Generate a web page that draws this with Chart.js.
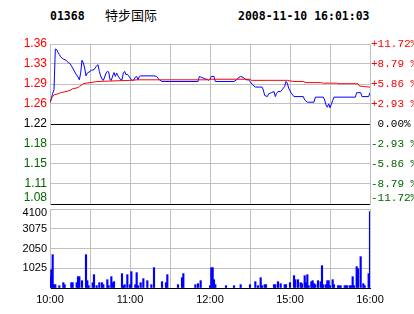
<!DOCTYPE html>
<html><head><meta charset="utf-8">
<script src="https://cdn.jsdelivr.net/npm/chart.js@4/dist/chart.umd.min.js"></script>
<style>
html,body{margin:0;padding:0;background:#fff;}
#wrap{position:relative;width:414px;height:314px;overflow:hidden;background:#fff;}
canvas{position:absolute;left:0;top:0;}
.hd{position:absolute;top:9px;font:bold 11.5px "DejaVu Sans Mono";color:#000;line-height:14px;white-space:pre;}
.cn{position:absolute;top:7px;font:13px "Noto Sans CJK SC";color:#000;line-height:16px;white-space:pre;}
</style></head><body>
<div id="wrap">
<div class="hd" id="code" style="left:50px"></div>
<div class="cn" id="name" style="left:105px"></div>
<div class="hd" id="stamp" style="left:238px"></div>
<canvas id="vol" width="414" height="314"></canvas>
<canvas id="price" width="414" height="314"></canvas>
</div>
<script>
const stockCode = '01368';
const stockName = '特步国际';
const stampText = '2008-11-10 16:01:03';

const prevClose = 1.22;
const pctLevels = [-11.72, -8.79, -5.86, -2.93, 0, 2.93, 5.86, 8.79, 11.72];
const priceTickLabels = ['1.08', '1.11', '1.15', '1.18', '1.22', '1.26', '1.29', '1.33', '1.36'];
const pctTickLabels = ['-11.72%', '-8.79 %', '-5.86 %', '-2.93 %', ' 0.00%', '+2.93 %', '+5.86 %', '+8.79 %', '+11.72%'];

const timeTicks = [0, 30, 60, 90, 120, 150, 180, 210, 240];
const timeTickLabels = ['10:00', '', '11:00', '', '12:00', '', '15:00', '', '16:00'];

const volTicks = [0, 1025, 2050, 3075, 4100];
const volTickLabels = ['', '1025', '2050', '3075', '4100'];

const priceMinutes = [0,1,2,3,4,5,6,7,8,10,12,14,15,17,19,21,22,23,24,25,26,27,28,30,31,33,35,36,37,38,39,40,41,42,43,44,45,46,47,48,49,50,51,53,54,55,56,57,58,59,61,62,63,64,65,66,67,68,78,80,81,82,84,111,112,113,115,117,118,119,120,121,123,124,138,140,141,143,145,147,149,150,152,154,159,160,161,163,164,166,168,169,170,171,173,174,176,177,178,179,181,183,190,191,193,198,199,205,206,207,208,209,210,211,212,213,229,230,233,234,239,240];
const priceValues = [1.258,1.265,1.275,1.281,1.354,1.353,1.348,1.344,1.340,1.336,1.334,1.329,1.328,1.320,1.311,1.304,1.299,1.311,1.334,1.329,1.320,1.306,1.311,1.314,1.316,1.317,1.324,1.326,1.314,1.306,1.300,1.298,1.304,1.311,1.314,1.313,1.299,1.298,1.306,1.312,1.305,1.311,1.306,1.299,1.299,1.311,1.314,1.308,1.309,1.306,1.299,1.298,1.299,1.304,1.305,1.299,1.305,1.306,1.306,1.305,1.302,1.299,1.296,1.296,1.305,1.304,1.302,1.300,1.300,1.298,1.300,1.305,1.305,1.296,1.296,1.299,1.302,1.305,1.303,1.299,1.299,1.296,1.290,1.286,1.286,1.281,1.271,1.269,1.274,1.276,1.278,1.269,1.275,1.278,1.278,1.281,1.287,1.296,1.293,1.284,1.275,1.269,1.269,1.263,1.259,1.259,1.268,1.268,1.263,1.254,1.250,1.256,1.249,1.255,1.262,1.268,1.268,1.276,1.276,1.269,1.269,1.276];

const avgMinutes = [0,1,2,3,6,8,12,15,17,21,22,25,27,30,36,48,60,66,119,120,150,151,178,180,183,190,192,203,205,215,216,231,232,235,240];
const avgValues = [1.258,1.265,1.269,1.272,1.274,1.276,1.278,1.280,1.283,1.285,1.287,1.292,1.293,1.294,1.296,1.297,1.298,1.299,1.299,1.300,1.300,1.298,1.298,1.297,1.296,1.296,1.294,1.294,1.293,1.293,1.292,1.292,1.288,1.287,1.286];

const volMinutes = [0,1,2,3,4,7,10,11,16,17,20,21,22,24,27,28,29,32,33,35,37,39,40,43,44,46,47,48,54,55,56,58,60,61,64,65,66,68,70,73,76,78,84,87,88,96,99,100,109,111,113,120,121,122,123,124,132,138,143,150,154,156,158,159,161,162,168,169,171,173,176,177,180,183,184,186,188,189,191,192,193,194,196,197,198,199,201,203,204,205,207,208,209,210,212,213,216,217,218,221,222,223,225,226,227,228,230,231,233,235,236,239,240];
const volValues = [590,950,1730,173,173,120,277,173,277,277,277,588,588,380,1730,380,120,277,692,120,277,277,173,432,120,588,277,329,744,120,173,692,173,848,173,796,120,277,484,380,173,1055,329,277,692,173,536,744,173,225,380,120,1055,1055,432,173,120,120,173,173,329,120,536,120,173,173,173,173,329,225,173,173,277,640,432,432,277,225,640,277,692,120,329,380,225,173,380,329,1159,173,173,380,380,120,432,173,120,120,120,120,120,120,120,120,588,120,1107,1003,1626,225,120,744,3970];

document.getElementById('code').textContent = stockCode;
document.getElementById('name').textContent = stockName;
document.getElementById('stamp').textContent = stampText;

const GRID = '#c0c0c0';
const RED = '#ff0000';
const GREEN = '#006600';
const BLUE = '#0000ff';

const priceTickValues = pctLevels.map(p => prevClose * (1 + p / 100));
const yMin = priceTickValues[0];
const yMax = priceTickValues[priceTickValues.length - 1];
const zeroIdx = pctLevels.indexOf(0);

function levelColor(i) {
  if (i === zeroIdx) return '#000000';
  return pctLevels[i] > 0 ? RED : GREEN;
}

const xTimeScale = {
  type: 'linear', min: 0, max: 240,
  afterBuildTicks: s => { s.ticks = timeTicks.map(v => ({ value: v })); },
};

new Chart(document.getElementById('price'), {
  type: 'line',
  data: {
    datasets: [
      { data: avgMinutes.map((m, i) => ({ x: m, y: avgValues[i] })), borderColor: RED, borderWidth: 1, pointRadius: 0, tension: 0, yAxisID: 'y' },
      { data: priceMinutes.map((m, i) => ({ x: m, y: priceValues[i] })), borderColor: BLUE, borderWidth: 1, pointRadius: 0, tension: 0, yAxisID: 'y' }
    ]
  },
  options: {
    responsive: false, animation: false, events: [],
    layout: { padding: { left: 0, right: 0, top: 44, bottom: 110 } },
    plugins: { legend: { display: false }, tooltip: { enabled: false } },
    scales: {
      x: Object.assign({}, xTimeScale, {
        ticks: { display: false, autoSkip: false },
        grid: { color: GRID, drawTicks: false },
        border: { display: false },
        afterFit: s => { s.height = 0; }
      }),
      y: {
        type: 'linear', position: 'left', min: yMin, max: yMax,
        afterBuildTicks: s => { s.ticks = priceTickValues.map(v => ({ value: v })); },
        afterFit: s => { s.width = 50; },
        grid: { color: c => (c.index === 0 || c.index === zeroIdx) ? '#000000' : GRID, drawTicks: false },
        border: { color: GRID },
        ticks: {
          padding: 3, autoSkip: false,
          font: { family: 'Liberation Sans', size: 12, lineHeight: 1 },
          color: c => levelColor(c.index),
          callback: (v, i) => i === 0 ? [priceTickLabels[i], ''] : priceTickLabels[i]
        }
      },
      y2: {
        type: 'linear', position: 'right', min: yMin, max: yMax,
        afterBuildTicks: s => { s.ticks = priceTickValues.map(v => ({ value: v })); },
        afterFit: s => { s.width = 44; },
        grid: { drawOnChartArea: false, drawTicks: false },
        border: { color: GRID },
        ticks: {
          padding: 1, autoSkip: false,
          font: { family: 'Liberation Mono', size: 11, lineHeight: 1.1 },
          color: c => levelColor(c.index),
          callback: (v, i) => i === 0 ? [pctTickLabels[i], ''] : pctTickLabels[i]
        }
      }
    }
  }
});

new Chart(document.getElementById('vol'), {
  type: 'bar',
  data: {
    datasets: [
      { data: volMinutes.map((m, i) => ({ x: m, y: volValues[i] })), backgroundColor: BLUE, borderWidth: 0, barThickness: 1.5 }
    ]
  },
  options: {
    responsive: false, animation: false, events: [],
    layout: { padding: { left: 0, right: 44, top: 209, bottom: 4 } },
    plugins: { legend: { display: false }, tooltip: { enabled: false } },
    scales: {
      x: Object.assign({}, xTimeScale, {
        offset: false,
        grid: { color: GRID, drawTicks: false, offset: false },
        border: { color: '#000000' },
        afterFit: s => { s.height = 22; },
        ticks: {
          padding: 5, maxRotation: 0, autoSkip: false,
          font: { family: 'Liberation Sans', size: 11 },
          color: '#000000',
          callback: (v, i) => timeTickLabels[i]
        }
      }),
      y: {
        type: 'linear', position: 'left', min: 0, max: 4100,
        afterBuildTicks: s => { s.ticks = volTicks.map(v => ({ value: v })); },
        afterFit: s => { s.width = 50; },
        grid: { color: c => c.index === 0 ? '#000000' : GRID, drawTicks: false },
        border: { color: GRID },
        ticks: {
          padding: 3, autoSkip: false,
          font: { family: 'Liberation Sans', size: 11, lineHeight: 0.8 },
          color: '#000000',
          callback: (v, i) => i === volTicks.length - 1 ? ['', volTickLabels[i]] : volTickLabels[i]
        }
      }
    }
  }
});
</script>
</body></html>
